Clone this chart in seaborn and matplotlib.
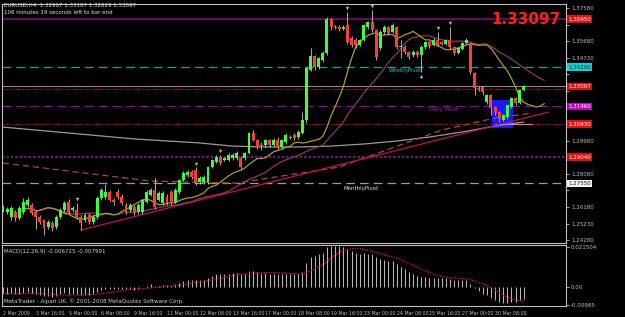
import numpy as np
import pandas as pd
import matplotlib
matplotlib.use("Agg")
import matplotlib.pyplot as plt
import seaborn as sns
from matplotlib.patches import Rectangle

sns.set_style("dark", {"axes.facecolor": "black", "figure.facecolor": "black",
                       "axes.edgecolor": "#c0c0c0", "grid.color": "black"})
plt.rcParams["font.family"] = ["DejaVu Sans"]

# ---------------- data (EURUSD H4, March 2009) ----------------
opens = [1.2601,1.2589,1.2560,1.2589,1.2555,1.2589,1.2629,1.2629,1.2589,1.2560,
         1.2543,1.2503,1.2526,1.2503,1.2560,1.2601,1.2646,1.2601,1.2601,1.2560,
         1.2543,1.2572,1.2532,1.2560,1.2669,1.2675,1.2704,1.2658,1.2704,1.2675,
         1.2629,1.2601,1.2618,1.2589,1.2589,1.2646,1.2687,1.2715,1.2658,1.2641,
         1.2675,1.2704,1.2646,1.2704,1.2772,1.2801,1.2818,1.2830,1.2761,1.2761,
         1.2761,1.2847,1.2876,1.2904,1.2887,1.2887,1.2899,1.2899,1.2899,1.2899,
         1.2927,1.3042,1.3002,1.2973,1.2973,1.3002,1.2973,1.3002,1.2962,1.2990,
         1.3019,1.3030,1.3019,1.3042,1.3116,1.3403,1.3483,1.3420,1.3460,1.3500,
         1.3695,1.3649,1.3649,1.3638,1.3661,1.3586,1.3575,1.3546,1.3575,1.3649,
         1.3678,1.3632,1.3529,1.3621,1.3649,1.3621,1.3649,1.3535,1.3535,1.3506,
         1.3489,1.3506,1.3489,1.3535,1.3563,1.3546,1.3575,1.3563,1.3552,1.3575,
         1.3535,1.3500,1.3523,1.3558,1.3558,1.3386,1.3300,1.3305,1.3219,1.3260,
         1.3191,1.3162,1.3116,1.3134,1.3191,1.3242,1.3214,1.3291]
closes = [1.2612,1.2606,1.2612,1.2555,1.2612,1.2646,1.2658,1.2583,1.2560,1.2532,
          1.2498,1.2532,1.2498,1.2560,1.2601,1.2641,1.2589,1.2612,1.2560,1.2526,
          1.2572,1.2532,1.2560,1.2669,1.2715,1.2704,1.2658,1.2646,1.2675,1.2641,
          1.2589,1.2629,1.2589,1.2629,1.2658,1.2704,1.2715,1.2618,1.2698,1.2698,
          1.2641,1.2641,1.2715,1.2772,1.2813,1.2818,1.2790,1.2755,1.2784,1.2790,
          1.2847,1.2887,1.2904,1.2870,1.2899,1.2916,1.2916,1.2927,1.2847,1.2927,
          1.3042,1.3002,1.2962,1.2970,1.3002,1.2973,1.3002,1.2962,1.3002,1.3030,
          1.3016,1.3013,1.3048,1.3116,1.3414,1.3483,1.3420,1.3471,1.3500,1.3695,
          1.3649,1.3644,1.3638,1.3649,1.3563,1.3546,1.3546,1.3575,1.3661,1.3678,
          1.3632,1.3477,1.3621,1.3649,1.3615,1.3661,1.3535,1.3540,1.3506,1.3477,
          1.3506,1.3489,1.3535,1.3563,1.3540,1.3575,1.3546,1.3552,1.3575,1.3535,
          1.3500,1.3529,1.3558,1.3575,1.3391,1.3300,1.3294,1.3277,1.3260,1.3185,
          1.3156,1.3128,1.3145,1.3202,1.3242,1.3214,1.3288,1.3310]
highs = [1.2630,1.2620,1.2625,1.2600,1.2625,1.2670,1.2675,1.2640,1.2600,1.2570,
         1.2550,1.2545,1.2540,1.2570,1.2610,1.2650,1.2665,1.2625,1.2640,1.2570,
         1.2585,1.2585,1.2570,1.2680,1.2725,1.2750,1.2715,1.2670,1.2720,1.2690,
         1.2640,1.2640,1.2630,1.2640,1.2665,1.2715,1.2725,1.2784,1.2710,1.2710,
         1.2690,1.2715,1.2725,1.2780,1.2825,1.2830,1.2830,1.2845,1.2795,1.2800,
         1.2855,1.2895,1.2915,1.2915,1.2905,1.2925,1.2930,1.2940,1.2910,1.2935,
         1.3050,1.3060,1.3010,1.2990,1.3010,1.3010,1.3015,1.3020,1.3010,1.3040,
         1.3030,1.3040,1.3060,1.3160,1.3420,1.3530,1.3490,1.3480,1.3510,1.3707,
         1.3700,1.3660,1.3660,1.3660,1.3735,1.3595,1.3585,1.3580,1.3665,1.3685,
         1.3747,1.3640,1.3630,1.3660,1.3655,1.3670,1.3655,1.3575,1.3545,1.3510,
         1.3515,1.3515,1.3545,1.3570,1.3570,1.3585,1.3621,1.3570,1.3580,1.3649,
         1.3540,1.3535,1.3565,1.3585,1.3565,1.3390,1.3310,1.3310,1.3265,1.3265,
         1.3195,1.3170,1.3150,1.3205,1.3250,1.3250,1.3290,1.3319]
lows = [1.2590,1.2580,1.2545,1.2540,1.2545,1.2580,1.2620,1.2575,1.2490,1.2520,
        1.2457,1.2490,1.2480,1.2490,1.2550,1.2590,1.2580,1.2590,1.2550,1.2486,
        1.2530,1.2520,1.2520,1.2550,1.2660,1.2665,1.2650,1.2630,1.2665,1.2630,
        1.2580,1.2590,1.2575,1.2580,1.2580,1.2640,1.2680,1.2605,1.2650,1.2630,
        1.2630,1.2630,1.2640,1.2695,1.2765,1.2790,1.2780,1.2745,1.2750,1.2750,
        1.2750,1.2840,1.2870,1.2860,1.2880,1.2880,1.2890,1.2890,1.2835,1.2890,
        1.2920,1.2995,1.2950,1.2945,1.2960,1.2960,1.2965,1.2950,1.2950,1.2980,
        1.3005,1.3000,1.3010,1.3035,1.3100,1.3395,1.3405,1.3410,1.3450,1.3490,
        1.3630,1.3635,1.3625,1.3630,1.3550,1.3535,1.3530,1.3540,1.3570,1.3640,
        1.3620,1.3460,1.3520,1.3610,1.3605,1.3615,1.3525,1.3471,1.3495,1.3465,
        1.3480,1.3480,1.3391,1.3525,1.3530,1.3540,1.3540,1.3545,1.3545,1.3525,
        1.3490,1.3495,1.3515,1.3550,1.3380,1.3260,1.3285,1.3260,1.3210,1.3145,
        1.3145,1.3105,1.3110,1.3125,1.3185,1.3205,1.3210,1.3283]

macd_main = [-0.0035,-0.0036,-0.0034,-0.0038,-0.0036,-0.0030,-0.0028,
             -0.0032,-0.0038,-0.0044,-0.0050,-0.0050,-0.0052,-0.0046,-0.0040,
             -0.0034,-0.0036,-0.0036,-0.0040,-0.0044,-0.0042,-0.0044,-0.0040,
             -0.0028,-0.0016,-0.0010,-0.0010,-0.0012,-0.0008,-0.0010,
             -0.0012,-0.0012,-0.0014,-0.0008,-0.0002,0.0008,0.0014,
             0.0006,0.0008,0.0012,0.0010,0.0008,0.0014,0.0024,
             0.0034,0.0040,0.0040,0.0036,0.0038,0.0040,0.0050,0.0060,
             0.0068,0.0068,0.0070,0.0072,0.0074,0.0076,0.0070,0.0072,
             0.0086,0.0086,0.0080,0.0076,0.0076,0.0072,0.0072,0.0068,
             0.0068,0.0070,0.0070,0.0068,0.0070,0.0080,
             0.0130,0.0160,0.0165,0.0175,0.0185,0.0215,
             0.0220,0.0220,0.0218,0.0215,0.0205,0.0195,
             0.0185,0.0180,0.0182,0.0180,0.0175,0.0160,
             0.0150,0.0145,0.0140,0.0138,0.0125,0.0110,
             0.0095,0.0080,0.0068,0.0060,0.0055,0.0052,
             0.0050,0.0050,0.0048,0.0046,0.0046,0.0044,
             0.0040,0.0038,0.0038,0.0036,0.0015,-0.0005,
             -0.0020,-0.0035,-0.0045,-0.0058,-0.0070,-0.0082,
             -0.0088,-0.0085,-0.0080,-0.0078,-0.0072,-0.0067]

date_labels = ["2 Mar 2009", "3 Mar 16:00", "5 Mar 00:00", "6 Mar 08:00",
               "9 Mar 16:00", "11 Mar 00:00", "12 Mar 08:00", "13 Mar 16:00",
               "17 Mar 00:00", "18 Mar 08:00", "19 Mar 16:00", "23 Mar 00:00",
               "24 Mar 08:00", "25 Mar 16:00", "27 Mar 00:00", "30 Mar 08:00"]

long_ma_bars = [0, 16, 32, 48, 56, 64, 72, 80, 88, 96, 104, 112, 120, 127]
long_ma_vals = [1.3076, 1.3042, 1.3008, 1.2985, 1.2967, 1.2962, 1.2962, 1.2967,
                1.2979, 1.2996, 1.3019, 1.3048, 1.3082, 1.3105]
brown_bars = [0, 24, 36, 57, 82, 107, 120, 129]
brown_vals = [1.2870, 1.2801, 1.2767, 1.2755, 1.2847, 1.3059, 1.3128, 1.3156]
trend_bars = [19, 133]
trend_vals = [1.2486, 1.3162]

# horizontal levels
top_level = 1.3695
weekly_pivot = 1.3420
bid_price = 1.33097
red_dot_level = 1.3294
daily_pivot = 1.3196
red_level = 1.3093
purple_level = 1.2904
monthly_pivot = 1.2755

box_x = [119.3, 124.3]
box_y = [1.3071, 1.3231]

fractal_up = [18, 47, 53, 84, 90, 106, 109]
fractal_dn = [102]

price_ticks = [1.37580, 1.36630, 1.35680, 1.34730, 1.33780, 1.32830, 1.31880,
               1.30930, 1.29980, 1.29030, 1.28080, 1.27130, 1.26180, 1.25230, 1.24280]

# ---------------- figure ----------------
W, H = 625, 317
FS = 4.0
fig = plt.figure(figsize=(W / 100, H / 100), dpi=100, facecolor="black")
ax = fig.add_axes([2 / W, 1 - 243 / H, 564 / W, 239 / H])
axm = fig.add_axes([2 / W, 1 - 306 / H, 564 / W, 61 / H])
for a in (ax, axm):
    a.set_facecolor("black")
    for s in a.spines.values():
        s.set_color("#c0c0c0")
        s.set_linewidth(0.8)
    a.grid(False)

o = np.array(opens); c = np.array(closes); h = np.array(highs); l = np.array(lows)
bars = np.arange(len(c))
df = pd.DataFrame({"bar": bars, "close": c})
df["ma_fast"] = df["close"].rolling(8, min_periods=1).mean()
df["ma_slow"] = df["close"].rolling(21, min_periods=1).mean()
df["shifted"] = df["bar"] + 5

# horizontal lines
ax.axhline(top_level, color="#5c0f55", lw=1.6, zorder=1)
ax.axhline(weekly_pivot, color="#1a9d9d", lw=0.9, ls=(0, (7, 4)), zorder=1)
ax.axhline(bid_price, color="#8a8a8a", lw=0.8, zorder=1)
ax.axhline(red_dot_level, color="#c01030", lw=0.8, ls=(0, (1, 1)), zorder=1)
ax.axhline(daily_pivot, color="#a000a0", lw=0.9, ls=(0, (7, 4)), zorder=1)
ax.axhline(red_level, color="#d01010", lw=0.8, ls=(0, (1, 1)), zorder=1)
ax.axhline(purple_level, color="#7a1a7a", lw=1.6, ls=(0, (1, 1)), zorder=1)
ax.axhline(monthly_pivot, color="#9a9a9a", lw=0.9, ls=(0, (7, 4)), zorder=1)
ax.plot([120, 129], [red_level, red_level], color="#ff7070", lw=0.9, zorder=2)

# blue rectangle
ax.add_patch(Rectangle((box_x[0], box_y[0]), box_x[1] - box_x[0], box_y[1] - box_y[0],
                       facecolor="#1a1aff", edgecolor="none", zorder=1.5))

# indicator lines
sns.lineplot(x=long_ma_bars, y=long_ma_vals, ax=ax, color="#9a9a9a", lw=0.9, zorder=2)
sns.lineplot(x=brown_bars, y=brown_vals, ax=ax, color="#a0522d", lw=0.9,
             linestyle=(0, (5, 3)), zorder=2)
sns.lineplot(x=trend_bars, y=trend_vals, ax=ax, color="#c0105a", lw=0.9, zorder=2)
sns.lineplot(data=df, x="shifted", y="ma_slow", ax=ax, color="#8b3a62", lw=0.9, zorder=2)
sns.lineplot(data=df, x="shifted", y="ma_fast", ax=ax, color="#a8a02c", lw=0.9, zorder=2)

# candles
up = c >= o
ax.vlines(bars, l, h, color="#c8c8c8", lw=0.6, zorder=3)
body_bot = np.minimum(o, c)
body_h = np.maximum(np.abs(c - o), 0.0003)
ax.bar(bars, body_h, bottom=body_bot, width=0.72,
       color=np.where(up, "#3cff3c", "#ff3c3c"), edgecolor="none", zorder=4)

# fractals
ax.scatter(fractal_up, h[fractal_up] + 0.0022, marker="v", s=6, color="#d4c020", zorder=5, lw=0)
ax.scatter(fractal_dn, l[fractal_dn] - 0.0022, marker="^", s=6, color="#d4c020", zorder=5, lw=0)

ax.set_xlim(-0.24, 137.3)
ax.set_ylim(1.2412, 1.3781)
ax.set_xlabel(""); ax.set_ylabel("")
ax.set_xticks([])
ax.yaxis.tick_right()

boxes = [(top_level, "1.36950", "#e01010", "white"),
         (weekly_pivot, "1.34200", "#10d0d0", "#003030"),
         (bid_price, "1.33097", "#e01010", "white"),
         (daily_pivot, "1.31960", "#c000c0", "white"),
         (red_level, "1.30930", "#e01010", "white"),
         (purple_level, "1.29040", "#e01010", "white"),
         (monthly_pivot, "1.27550", "#f0f0f0", "#202020")]
# tick labels hidden where a coloured price box covers them (as in the terminal)
box_vals = [b[0] for b in boxes]
ax.set_yticks(price_ticks)
ax.set_yticklabels(["" if min(abs(v - bv) for bv in box_vals) < 0.0045 else f"{v:.5f}"
                    for v in price_ticks])
ax.tick_params(axis="y", labelsize=FS, colors="#c0c0c0", length=2, pad=1.5, width=0.6)

# text labels
ax.text(94, weekly_pivot - 0.0006, "WeeklyPivot", color="#20c0c0", fontsize=FS, va="top")
ax.text(104, daily_pivot - 0.0003, "Daily Pivot", color="#b020b0", fontsize=FS, va="top")
ax.text(83, monthly_pivot - 0.0018, "MonthlyPivot", color="#e0e0e0", fontsize=FS, va="top")
ax.text(135.9, top_level, "1.33097", color="#ff2020", fontsize=11, fontweight="bold",
        ha="right", va="center", zorder=6)

ytr = ax.get_yaxis_transform()
for val, txt, fc, tc in boxes:
    ax.text(1.004, val, txt, transform=ytr, fontsize=FS, color=tc, va="center", ha="left",
            bbox=dict(facecolor=fc, edgecolor="none", pad=0.8), zorder=7, clip_on=False)

# MACD panel
mm = pd.Series(macd_main)
signal = mm.rolling(9, min_periods=1).mean()
axm.vlines(bars, 0, mm.values, color="#bdbdbd", lw=0.7)
sns.lineplot(x=bars, y=signal.values, ax=axm, color="#e02020", lw=0.9, linestyle=(0, (1, 1)))
axm.set_xlim(-0.24, 137.3)
axm.set_ylim(-0.0102, 0.0226)
axm.set_xlabel(""); axm.set_ylabel("")
axm.yaxis.tick_right()
axm.set_yticks([0.021504, 0.0, -0.00985])
axm.set_yticklabels(["0.021504", "0.00", "-0.00985"])
axm.tick_params(axis="y", labelsize=FS, colors="#c0c0c0", length=2, pad=1.5, width=0.6)
axm.set_xticks(np.arange(0, 128, 8))
axm.set_xticklabels(date_labels)
axm.tick_params(axis="x", labelsize=3.4, colors="#c0c0c0", length=2, pad=1.5, width=0.6)
for lab in axm.get_xticklabels():
    lab.set_ha("left")
axm.text(0.004, 0.93, "MACD(12,26,9) -0.006725 -0.007991", transform=axm.transAxes,
         color="#d0d0d0", fontsize=FS, va="top")
axm.text(0.004, 0.04, "MetaTrader - Alpari UK, \u00a9 2001-2008 MetaQuotes Software Corp.",
         transform=axm.transAxes, color="#d0d0d0", fontsize=FS, va="bottom")

fig.text(4 / W, 1 - 3 / H, "EURUSD,H4  1.32907 1.33187 1.32829 1.33097",
         color="#e0e0e0", fontsize=FS, va="top")
fig.text(4 / W, 1 - 9.5 / H, "106 minutes 19 seconds left to bar end",
         color="#e0e0e0", fontsize=FS, va="top")

fig.savefig("out.png", dpi=100, facecolor="black")
